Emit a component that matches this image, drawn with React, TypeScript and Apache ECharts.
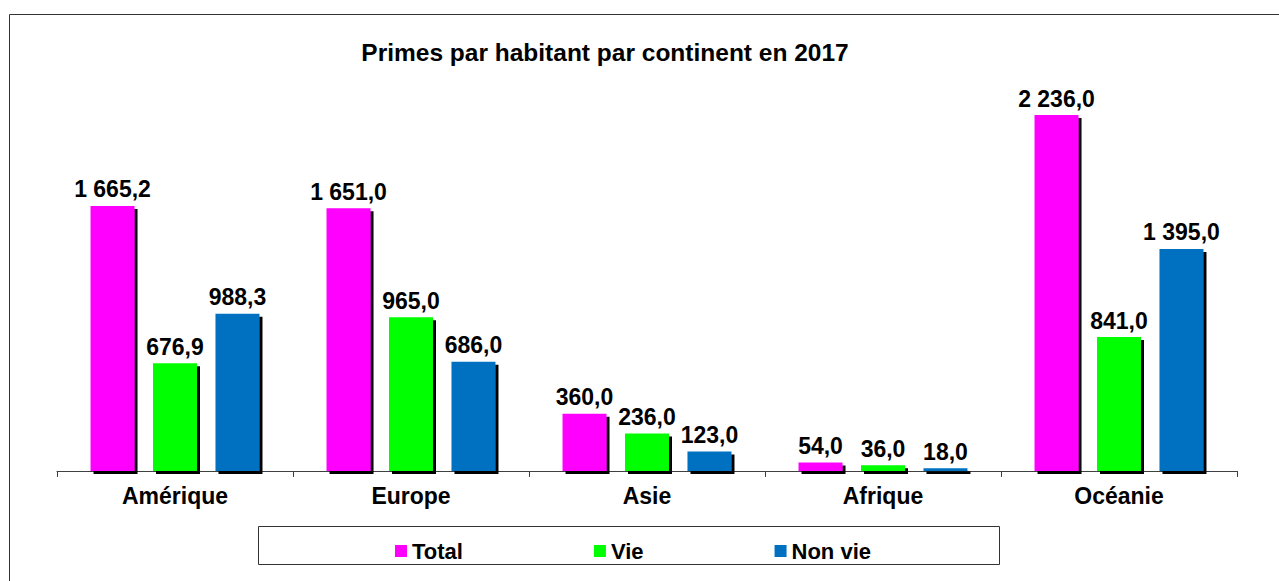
import React, { useEffect, useRef } from "react";
import * as echarts from "echarts";

const TITLE = "Primes par habitant par continent en 2017";
const categories = ["Amérique", "Europe", "Asie", "Afrique", "Océanie"];
const seriesNames = ["Total", "Vie", "Non vie"];
const totalValues = [1665.2, 1651.0, 360.0, 54.0, 2236.0];
const vieValues = [676.9, 965.0, 236.0, 36.0, 841.0];
const nonVieValues = [988.3, 686.0, 123.0, 18.0, 1395.0];
const colors = ["#FF00FF", "#00FF00", "#0070C0"];

const FONT = '"Liberation Sans", Arial, sans-serif';

function fmt(v: number): string {
  const [i, d] = v.toFixed(1).split(".");
  const withSep = i.replace(/\B(?=(\d{3})+(?!\d))/g, " ");
  return withSep + "," + d;
}

export default function App() {
  const ref = useRef<HTMLDivElement>(null);
  useEffect(() => {
    if (!ref.current) return;
    const chart = echarts.init(ref.current, undefined, { renderer: "svg" });
    const data = [totalValues, vieValues, nonVieValues];
    chart.setOption({
      animation: false,
      backgroundColor: "#ffffff",
      graphic: [
        {
          type: "rect",
          shape: { x: 9.5, y: 14.5, width: 1400, height: 800 },
          style: { fill: "none", stroke: "#333333", lineWidth: 1 },
          z: -1,
        },
        {
          type: "text",
          x: 605,
          y: 52,
          style: {
            text: TITLE,
            fill: "#000",
            font: `bold 24.5px ${FONT}`,
            align: "center",
            verticalAlign: "middle",
          },
        },
        {
          type: "rect",
          shape: { x: 258.5, y: 526.5, width: 741, height: 38 },
          style: { fill: "none", stroke: "#333333", lineWidth: 1 },
        },
      ],
      legend: {
        left: 390,
        top: 535,
        itemWidth: 12,
        itemHeight: 12,
        itemGap: 131,
        icon: "rect",
        data: seriesNames,
        textStyle: { fontFamily: FONT, fontWeight: "bold", fontSize: 22, color: "#000" },
      },
      grid: { left: 57, right: 42, top: 73, bottom: 110, containLabel: false },
      xAxis: {
        type: "category",
        data: categories,
        axisLine: { show: true, lineStyle: { color: "#404040", width: 1 } },
        axisTick: {
          show: true,
          interval: 0,
          alignWithLabel: false,
          length: 6,
          lineStyle: { color: "#404040", width: 1 },
        },
        axisLabel: {
          margin: 13,
          fontFamily: FONT,
          fontWeight: "bold",
          fontSize: 23,
          color: "#000",
        },
      },
      yAxis: { type: "value", min: 0, max: 2500, show: false, splitLine: { show: false } },
      series: seriesNames.map((name, idx) => ({
        name,
        type: "bar",
        data: data[idx],
        barWidth: 44,
        barGap: "42%",
        itemStyle: {
          color: colors[idx],
          shadowColor: "#000",
          shadowOffsetX: 3,
          shadowOffsetY: 3,
          shadowBlur: 0,
        },
        label: {
          show: true,
          position: "top",
          distance: 5,
          formatter: (p: any) => fmt(p.value),
          fontFamily: FONT,
          fontWeight: "bold",
          fontSize: 23,
          color: "#000",
        },
      })),
    });
    return () => chart.dispose();
  }, []);
  return (
    <div
      ref={ref}
      style={{ position: "fixed", left: 0, top: 0, width: 1279, height: 581 }}
    />
  );
}
